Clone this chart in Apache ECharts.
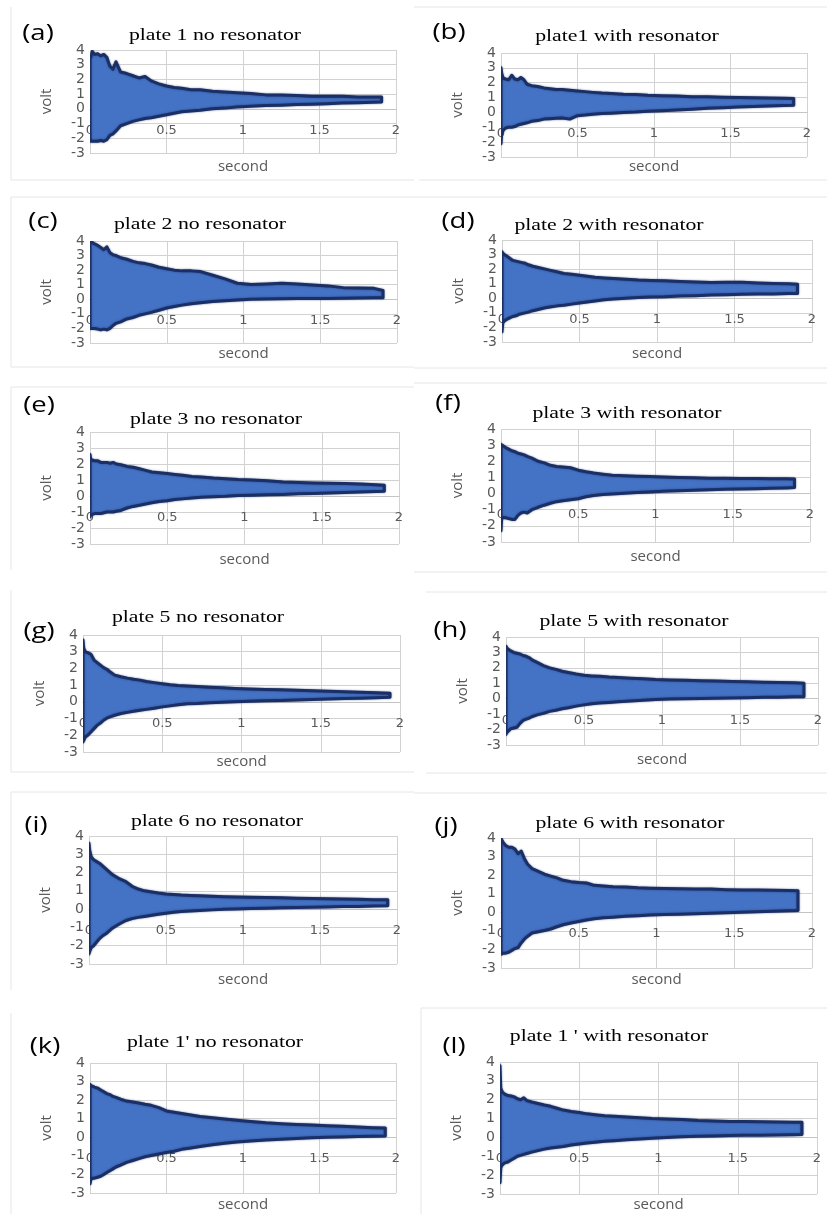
<!DOCTYPE html>
<html>
<head>
<meta charset="utf-8">
<script src="https://cdn.jsdelivr.net/npm/echarts@6/dist/echarts.min.js"></script>
<style>
  html, body { margin: 0; padding: 0; background: #ffffff; }
  #chart { width: 827px; height: 1214px; }
</style>
</head>
<body>
<div id="chart"></div>
<script>
// Sample times (s) shared by all traces; the last sample is replaced by each trace's end time.
const time = [0, 0.005, 0.015, 0.03, 0.05, 0.07, 0.09, 0.11, 0.13, 0.15,
  0.17, 0.2, 0.24, 0.28, 0.32, 0.36, 0.4, 0.45, 0.5, 0.55,
  0.6, 0.66, 0.72, 0.8, 0.88, 0.96, 1.05, 1.15, 1.25, 1.35,
  1.45, 1.55, 1.65, 1.75, 1.85, 1.9];
const traceEnd = [1.906, 1.913, 1.909, 1.907, 1.905, 1.90, 1.937, 1.91, 1.94, 1.91, 1.93, 1.905];

const xTicks = [0, 0.5, 1, 1.5, 2];
const yTicks = [-3, -2, -1, 0, 1, 2, 3, 4];

const panelTags = ['(a)', '(b)', '(c)', '(d)', '(e)', '(f)', '(g)', '(h)', '(i)', '(j)', '(k)', '(l)'];
const panelTitles = [
  'plate 1 no resonator', 'plate1 with resonator',
  'plate 2 no resonator', 'plate 2 with resonator',
  'plate 3 no resonator', 'plate 3 with resonator',
  'plate 5 no resonator', 'plate 5 with resonator',
  'plate 6 no resonator', 'plate 6 with resonator',
  "plate 1' no resonator", "plate 1 ' with resonator"
];

// Upper / lower envelopes of the decaying vibration signal (volt)
const upperA = [3.4, 3.5, 3.9, 3.7, 3.75, 3.6, 3.7, 3.5, 2.9, 2.7, 3.2, 2.5, 2.4, 2.25, 2.1, 2.2, 1.9, 1.7, 1.55, 1.45, 1.4, 1.3, 1.3, 1.2, 1.15, 1.1, 1.05, 0.95, 0.95, 0.9, 0.85, 0.85, 0.85, 0.8, 0.8, 0.8];
const lowerA = [-2.0, -2.2, -2.2, -2.2, -2.2, -2.15, -2.2, -2.1, -1.8, -1.7, -1.5, -1.15, -1.0, -0.85, -0.75, -0.65, -0.6, -0.5, -0.4, -0.3, -0.2, -0.15, -0.1, 0.0, 0.05, 0.12, 0.18, 0.22, 0.25, 0.3, 0.32, 0.35, 0.4, 0.42, 0.45, 0.47];
const upperB = [3.0, 2.6, 2.3, 2.25, 2.2, 2.5, 2.25, 2.2, 2.35, 2.2, 1.9, 1.8, 1.75, 1.65, 1.6, 1.55, 1.55, 1.5, 1.45, 1.4, 1.35, 1.3, 1.27, 1.22, 1.2, 1.15, 1.12, 1.1, 1.05, 1.05, 1.02, 1.0, 0.98, 0.97, 0.95, 0.93];
const lowerB = [-2.1, -1.4, -1.2, -1.05, -1.0, -1.0, -0.95, -0.85, -0.8, -0.75, -0.7, -0.6, -0.55, -0.45, -0.42, -0.4, -0.38, -0.45, -0.22, -0.18, -0.12, -0.08, -0.05, 0.0, 0.03, 0.08, 0.12, 0.17, 0.22, 0.28, 0.32, 0.36, 0.4, 0.43, 0.46, 0.48];
const upperC = [4.0, 4.0, 3.9, 3.8, 3.7, 3.55, 3.4, 3.6, 3.2, 3.05, 3.0, 2.85, 2.75, 2.6, 2.5, 2.45, 2.35, 2.2, 2.1, 2.0, 1.95, 1.95, 1.9, 1.65, 1.4, 1.1, 1.02, 1.05, 1.1, 1.05, 0.98, 0.92, 0.8, 0.78, 0.75, 0.6];
const lowerC = [-2.0, -2.0, -2.0, -2.0, -2.05, -2.1, -2.05, -2.1, -2.0, -1.8, -1.65, -1.55, -1.35, -1.25, -1.1, -1.0, -0.9, -0.75, -0.6, -0.5, -0.4, -0.3, -0.23, -0.15, -0.1, -0.05, 0.0, 0.02, 0.03, 0.05, 0.05, 0.06, 0.07, 0.08, 0.1, 0.1];
const upperD = [3.2, 3.1, 3.0, 2.9, 2.75, 2.6, 2.55, 2.5, 2.45, 2.4, 2.3, 2.2, 2.1, 2.0, 1.9, 1.8, 1.7, 1.65, 1.58, 1.52, 1.45, 1.4, 1.35, 1.3, 1.25, 1.22, 1.2, 1.15, 1.12, 1.08, 1.1, 1.1, 1.05, 1.02, 1.0, 0.97];
const lowerD = [-2.3, -1.7, -1.55, -1.45, -1.35, -1.25, -1.2, -1.1, -1.05, -1.0, -0.95, -0.85, -0.75, -0.65, -0.58, -0.52, -0.48, -0.4, -0.32, -0.25, -0.18, -0.1, -0.05, 0.0, 0.05, 0.08, 0.1, 0.15, 0.18, 0.22, 0.25, 0.27, 0.29, 0.3, 0.32, 0.33];
const upperE = [2.6, 2.3, 2.25, 2.2, 2.2, 2.1, 2.1, 2.1, 2.05, 2.1, 2.0, 1.95, 1.85, 1.8, 1.7, 1.6, 1.5, 1.45, 1.4, 1.35, 1.3, 1.22, 1.18, 1.12, 1.08, 1.03, 1.0, 0.95, 0.88, 0.85, 0.82, 0.8, 0.78, 0.75, 0.7, 0.67];
const lowerE = [-1.3, -1.2, -1.15, -1.1, -1.1, -1.1, -1.05, -1.0, -1.0, -1.0, -0.95, -0.9, -0.75, -0.65, -0.58, -0.5, -0.42, -0.35, -0.3, -0.22, -0.18, -0.12, -0.08, -0.05, -0.02, 0.03, 0.05, 0.08, 0.1, 0.14, 0.16, 0.19, 0.22, 0.25, 0.28, 0.3];
const upperF = [3.05, 3.0, 2.95, 2.85, 2.75, 2.65, 2.6, 2.5, 2.45, 2.4, 2.3, 2.2, 2.0, 1.9, 1.75, 1.68, 1.65, 1.6, 1.45, 1.35, 1.27, 1.2, 1.14, 1.1, 1.07, 1.05, 1.02, 1.0, 0.98, 0.95, 0.95, 0.93, 0.93, 0.92, 0.92, 0.9];
const lowerF = [-2.3, -1.45, -1.5, -1.5, -1.55, -1.6, -1.6, -1.35, -1.2, -1.15, -1.2, -1.0, -0.85, -0.72, -0.6, -0.5, -0.45, -0.38, -0.32, -0.2, -0.12, -0.06, -0.03, 0.02, 0.06, 0.1, 0.14, 0.17, 0.2, 0.23, 0.26, 0.28, 0.3, 0.33, 0.35, 0.37];
const upperG = [3.7, 3.2, 3.0, 2.95, 2.85, 2.5, 2.35, 2.2, 2.05, 1.95, 1.8, 1.6, 1.5, 1.42, 1.35, 1.3, 1.22, 1.15, 1.08, 1.02, 0.98, 0.95, 0.92, 0.88, 0.84, 0.8, 0.77, 0.74, 0.72, 0.7, 0.66, 0.63, 0.6, 0.57, 0.55, 0.52];
const lowerG = [-2.4, -2.3, -2.1, -2.0, -1.8, -1.6, -1.4, -1.27, -1.1, -0.98, -0.9, -0.8, -0.7, -0.63, -0.56, -0.5, -0.45, -0.38, -0.3, -0.24, -0.18, -0.12, -0.1, -0.05, -0.02, 0.0, 0.03, 0.06, 0.08, 0.11, 0.14, 0.17, 0.2, 0.22, 0.25, 0.28];
const upperH = [3.4, 3.3, 3.2, 3.1, 3.0, 2.95, 2.9, 2.8, 2.75, 2.65, 2.5, 2.35, 2.15, 2.0, 1.9, 1.78, 1.7, 1.6, 1.52, 1.48, 1.45, 1.4, 1.37, 1.33, 1.3, 1.25, 1.22, 1.2, 1.17, 1.15, 1.12, 1.1, 1.07, 1.05, 1.03, 1.0];
const lowerH = [-2.3, -2.2, -2.1, -1.95, -1.9, -1.85, -1.6, -1.4, -1.32, -1.25, -1.15, -1.05, -0.95, -0.82, -0.75, -0.65, -0.58, -0.48, -0.4, -0.33, -0.28, -0.24, -0.2, -0.15, -0.1, -0.05, -0.02, 0.0, 0.02, 0.03, 0.05, 0.07, 0.09, 0.1, 0.12, 0.13];
const upperI = [3.6, 3.2, 2.85, 2.7, 2.6, 2.5, 2.35, 2.2, 2.05, 1.9, 1.8, 1.65, 1.5, 1.25, 1.1, 1.0, 0.95, 0.88, 0.83, 0.8, 0.77, 0.75, 0.73, 0.7, 0.68, 0.66, 0.65, 0.63, 0.62, 0.6, 0.58, 0.57, 0.55, 0.54, 0.52, 0.51];
const lowerI = [-2.45, -2.3, -2.1, -2.0, -1.8, -1.6, -1.45, -1.35, -1.2, -1.05, -0.95, -0.8, -0.62, -0.52, -0.45, -0.4, -0.35, -0.28, -0.22, -0.17, -0.13, -0.1, -0.07, -0.04, -0.01, 0.01, 0.03, 0.05, 0.07, 0.09, 0.11, 0.12, 0.14, 0.15, 0.17, 0.18];
const upperJ = [4.0, 3.9, 3.75, 3.6, 3.5, 3.5, 3.4, 3.15, 3.3, 2.9, 2.6, 2.35, 2.2, 2.05, 1.95, 1.85, 1.72, 1.65, 1.6, 1.58, 1.45, 1.42, 1.38, 1.36, 1.32, 1.3, 1.28, 1.27, 1.26, 1.25, 1.22, 1.2, 1.2, 1.18, 1.17, 1.16];
const lowerJ = [-2.25, -2.25, -2.2, -2.2, -2.15, -2.05, -1.95, -1.9, -1.65, -1.45, -1.3, -1.12, -1.05, -0.98, -0.9, -0.78, -0.67, -0.58, -0.5, -0.42, -0.35, -0.3, -0.27, -0.22, -0.18, -0.15, -0.12, -0.1, -0.08, -0.05, -0.03, 0.0, 0.03, 0.06, 0.08, 0.1];
const upperK = [2.85, 2.8, 2.75, 2.7, 2.65, 2.55, 2.45, 2.35, 2.3, 2.2, 2.15, 2.05, 1.95, 1.9, 1.85, 1.78, 1.72, 1.6, 1.42, 1.35, 1.28, 1.2, 1.12, 1.05, 0.98, 0.92, 0.85, 0.78, 0.73, 0.69, 0.66, 0.62, 0.59, 0.56, 0.52, 0.5];
const lowerK = [-2.5, -2.3, -2.2, -2.2, -2.15, -2.1, -2.0, -1.9, -1.8, -1.7, -1.6, -1.5, -1.35, -1.25, -1.15, -1.05, -0.98, -0.9, -0.82, -0.75, -0.65, -0.58, -0.5, -0.4, -0.32, -0.26, -0.2, -0.15, -0.1, -0.06, -0.03, 0.0, 0.02, 0.04, 0.06, 0.07];
const upperL = [3.8, 2.6, 2.4, 2.3, 2.22, 2.2, 2.15, 2.05, 2.0, 2.1, 1.95, 1.88, 1.8, 1.72, 1.65, 1.55, 1.45, 1.38, 1.32, 1.25, 1.2, 1.15, 1.12, 1.08, 1.04, 1.0, 0.98, 0.95, 0.9, 0.87, 0.85, 0.84, 0.83, 0.82, 0.81, 0.8];
const lowerL = [-2.4, -1.6, -1.45, -1.35, -1.3, -1.2, -1.1, -1.0, -0.95, -0.9, -0.85, -0.78, -0.7, -0.62, -0.56, -0.52, -0.48, -0.4, -0.35, -0.3, -0.25, -0.2, -0.17, -0.12, -0.08, -0.04, 0.0, 0.03, 0.06, 0.08, 0.1, 0.11, 0.12, 0.13, 0.14, 0.15];

const uppers = [upperA, upperB, upperC, upperD, upperE, upperF, upperG, upperH, upperI, upperJ, upperK, upperL];
const lowers = [lowerA, lowerB, lowerC, lowerD, lowerE, lowerF, lowerG, lowerH, lowerI, lowerJ, lowerK, lowerL];

// Panel layout in pixels: plot box (l, r, t, b), tag centre, title centre, "second" row
const layout = [
  { l: 90,  r: 396, t: 50,   b: 153,  tag: [38, 34],   title: [215, 36],   sec: 167 },
  { l: 501, r: 807, t: 53,   b: 157,  tag: [449, 33],  title: [627, 37],   sec: 167 },
  { l: 90,  r: 397, t: 241,  b: 343,  tag: [43, 222],  title: [200, 225],  sec: 354 },
  { l: 502, r: 812, t: 240,  b: 342,  tag: [458, 222], title: [609, 226],  sec: 354 },
  { l: 90,  r: 399, t: 432,  b: 544,  tag: [39, 406],  title: [216, 420],  sec: 560 },
  { l: 501, r: 810, t: 429,  b: 542,  tag: [448, 404], title: [627, 414],  sec: 557 },
  { l: 83,  r: 400, t: 635,  b: 752,  tag: [39, 632],  title: [198, 618],  sec: 762 },
  { l: 506, r: 818, t: 637,  b: 745,  tag: [450, 631], title: [634, 622],  sec: 760 },
  { l: 89,  r: 397, t: 836,  b: 964,  tag: [36, 826],  title: [217, 822],  sec: 980 },
  { l: 501, r: 812, t: 838,  b: 968,  tag: [446, 827], title: [630, 824],  sec: 980 },
  { l: 90,  r: 396, t: 1063, b: 1193, tag: [45, 1047], title: [215, 1043], sec: 1205 },
  { l: 500, r: 817, t: 1062, b: 1194, tag: [454, 1047], title: [609, 1037], sec: 1205 }
];

// faint frame lines around the individual panels
const frameLines = [
  [11, 7, 11, 180], [11, 180, 414, 180], [414, 7, 827, 7], [419, 180, 827, 180],
  [11, 197, 414, 197], [11, 197, 11, 367], [11, 367, 414, 367],
  [414, 197, 827, 197], [414, 368, 827, 368],
  [11, 387, 414, 387], [11, 387, 11, 570], [414, 383, 827, 383], [414, 572, 827, 572],
  [11, 590, 11, 772], [11, 772, 414, 772], [426, 592, 827, 592], [426, 773, 827, 773],
  [11, 792, 414, 792], [11, 792, 11, 990], [414, 793, 827, 793],
  [11, 1013, 11, 1214], [421, 1008, 827, 1008], [421, 1008, 421, 1214]
];

const GRID_COLOR = '#d2d2d2';
const LABEL_COLOR = '#595959';
const FILL = '#4472c4';
const EDGE = '#1a2f66';

const yMin = yTicks[0], yMax = yTicks[yTicks.length - 1];
const grids = [], xAxes = [], yAxes = [], series = [], graphics = [];

frameLines.forEach(([x1, y1, x2, y2]) => {
  graphics.push({
    type: 'line', silent: true, z: 0,
    shape: { x1, y1, x2, y2 },
    style: { stroke: '#e6e6e6', lineWidth: 1 }
  });
});

layout.forEach((p, i) => {
  const h = p.b - p.t;
  grids.push({
    left: p.l, top: p.t, width: p.r - p.l, height: h,
    containLabel: false, outerBoundsMode: 'none'
  });
  // the horizontal axis crosses the vertical one at 0 volt
  const zeroLift = h * (0 - yMin) / (yMax - yMin);
  xAxes.push({
    gridIndex: i, type: 'value', position: 'bottom', offset: -zeroLift,
    min: xTicks[0], max: xTicks[xTicks.length - 1], interval: xTicks[1] - xTicks[0],
    axisLine: { show: true, onZero: false, lineStyle: { color: '#c4c4c4', width: 1 } },
    axisTick: { show: false },
    splitLine: { show: true, lineStyle: { color: GRID_COLOR, width: 1 } },
    axisLabel: {
      color: LABEL_COLOR, fontFamily: 'DejaVu Sans', fontSize: 13, margin: 15,
      formatter: v => String(v)
    }
  });
  yAxes.push({
    gridIndex: i, type: 'value',
    min: yMin, max: yMax, interval: yTicks[1] - yTicks[0],
    axisLine: { show: false },
    axisTick: { show: false },
    splitLine: { show: true, lineStyle: { color: GRID_COLOR, width: 1 } },
    axisLabel: { color: LABEL_COLOR, fontFamily: 'DejaVu Sans', fontSize: 14, margin: 5 }
  });

  const up = uppers[i], lo = lowers[i];
  const tAt = k => (k === time.length - 1 ? traceEnd[i] : time[k]);
  const rows = time.map((_, k) => [tAt(k), up[k], lo[k]]);

  // Filled envelope band: upper trace forward, lower trace back
  series.push({
    type: 'custom', xAxisIndex: i, yAxisIndex: i,
    coordinateSystem: 'cartesian2d',
    data: rows, encode: { x: 0, y: [1, 2] },
    clip: true, silent: true, z: 3,
    renderItem: (params, api) => {
      if (params.dataIndex !== 0) return null;
      const pts = [];
      for (let k = 0; k < rows.length; k++) pts.push(api.coord([rows[k][0], rows[k][1]]));
      for (let k = rows.length - 1; k >= 0; k--) pts.push(api.coord([rows[k][0], rows[k][2]]));
      return {
        type: 'polygon',
        shape: { points: pts },
        style: {
          fill: FILL, stroke: EDGE, lineWidth: 3, lineJoin: 'round',
          shadowBlur: 2, shadowColor: 'rgba(15,35,90,0.55)'
        }
      };
    }
  });

  // panel tag, e.g. "(a)"
  graphics.push({
    type: 'text', x: p.tag[0], y: p.tag[1], scaleX: 1.25, z: 10,
    style: {
      text: panelTags[i], font: '22px "Open Sans", sans-serif', fill: '#000',
      textAlign: 'center', textVerticalAlign: 'middle', align: 'center', verticalAlign: 'middle'
    }
  });
  // panel title
  graphics.push({
    type: 'text', x: p.title[0], y: p.title[1], scaleX: 1.36, z: 10,
    style: {
      text: panelTitles[i], font: '16px "Liberation Serif", serif', fill: '#000',
      textAlign: 'center', textVerticalAlign: 'middle', align: 'center', verticalAlign: 'middle'
    }
  });
  // y-axis name
  graphics.push({
    type: 'text', x: p.l - 43, y: (p.t + p.b) / 2, rotation: Math.PI / 2, z: 10,
    style: {
      text: 'volt', font: '15px "Open Sans", sans-serif', fill: LABEL_COLOR,
      textAlign: 'center', textVerticalAlign: 'middle', align: 'center', verticalAlign: 'middle'
    }
  });
  // x-axis name
  graphics.push({
    type: 'text', x: (p.l + p.r) / 2, y: p.sec, z: 10,
    style: {
      text: 'second', font: '15px "Open Sans", sans-serif', fill: LABEL_COLOR,
      textAlign: 'center', textVerticalAlign: 'middle', align: 'center', verticalAlign: 'middle'
    }
  });
});

const chart = echarts.init(document.getElementById('chart'), null, { renderer: 'canvas' });
chart.setOption({
  backgroundColor: '#ffffff',
  animation: false,
  grid: grids,
  xAxis: xAxes,
  yAxis: yAxes,
  series: series,
  graphic: graphics
});
</script>
</body>
</html>
